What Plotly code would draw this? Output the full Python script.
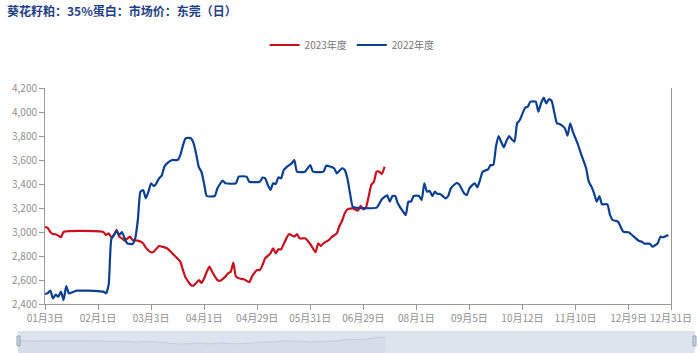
import plotly.graph_objects as go

# ---------------- data ----------------
tick_idx = [0, 20, 40, 60, 80, 100, 120, 140, 160, 180, 200, 220, 236]
tick_labels = ["01月3日", "02月1日", "03月3日", "04月1日", "04月29日", "05月31日",
               "06月29日", "08月1日", "09月5日", "10月12日", "11月10日", "12月9日", "12月31日"]

# 2023年度 (trading-day index, price)
red_x = [0, 1, 2, 3, 4, 5, 6, 7, 22, 23, 24, 25, 26, 27, 28, 29, 30, 32, 33, 35, 37, 38,
         40, 41, 43, 44, 46, 48, 49, 51, 52, 53, 55, 56, 57, 58, 59, 60, 61, 62, 63, 65,
         66, 68, 69, 70, 71, 72, 74, 75, 77, 78, 80, 81, 82, 83, 85, 86, 87, 88, 89, 90,
         91, 92, 94, 95, 96, 98, 100, 101, 102, 103, 104, 105, 107, 108, 110, 111, 112,
         113, 114, 116, 118, 119, 120, 121, 122, 123, 124, 125, 126, 127, 128]
red_y = [3044, 3035, 3000, 2983, 2981, 2970, 2956, 3000, 3000, 2975, 2989, 2956, 2975, 3017,
         2961, 2947, 2928, 2961, 2933, 2928, 2906, 2870, 2831, 2836, 2883, 2878, 2864, 2822,
         2800, 2753, 2683, 2620, 2558, 2553, 2575, 2600, 2575, 2614, 2669, 2711, 2669, 2600,
         2594, 2628, 2656, 2669, 2744, 2628, 2608, 2606, 2581, 2628, 2683, 2683, 2725, 2781,
         2822, 2864, 2822, 2856, 2856, 2900, 2947, 2983, 2961, 2983, 2947, 2947, 2900, 2864,
         2831, 2906, 2883, 2906, 2933, 2956, 2989, 3050, 3094, 3156, 3189, 3197, 3178, 3217,
         3189, 3206, 3294, 3392, 3419, 3503, 3503, 3483, 3544]

# 2022年度
blue_x = [0, 1, 2, 3, 4, 5, 6, 7, 8, 9, 10, 12, 16, 20, 22, 23, 24, 25, 26, 27, 28, 29, 30,
          31, 33, 34, 35, 36, 37, 38, 39, 40, 41, 42, 43, 44, 45, 46, 48, 50, 51, 52, 53,
          55, 56, 57, 58, 59, 60, 61, 64, 65, 67, 68, 72, 73, 76, 77, 81, 82, 83, 84, 85,
          86, 87, 88, 89, 90, 91, 93, 94, 95, 98, 100, 101, 105, 106, 109, 110, 112, 113,
          114, 115, 116, 117, 125, 127, 129, 130, 131, 132, 133, 135, 136, 137, 138, 139,
          141, 142, 143, 144, 145, 146, 147, 148, 149, 151, 152, 153, 155, 156, 158, 159,
          160, 162, 163, 164, 165, 167, 168, 169, 170, 171, 172, 173, 174, 175, 176, 177,
          178, 179, 181, 182, 183, 185, 186, 187, 188, 189, 190, 191, 193, 194, 196, 197,
          198, 199, 201, 202, 204, 205, 206, 207, 208, 209, 210, 212, 213, 214, 216, 218,
          220, 222, 224, 225, 226, 228, 229, 231, 232, 233, 235]
blue_y = [2485, 2490, 2511, 2447, 2478, 2461, 2503, 2433, 2550, 2489, 2495, 2511, 2511, 2508,
          2503, 2489, 2560, 2940, 2975, 3008, 2975, 3000, 2950, 2906, 2900, 2947, 3100, 3336,
          3350, 3281, 3336, 3406, 3383, 3406, 3447, 3470, 3544, 3572, 3600, 3600, 3640, 3720,
          3781, 3781, 3740, 3650, 3540, 3500, 3400, 3300, 3300, 3364, 3428, 3406, 3406, 3461,
          3461, 3419, 3419, 3453, 3447, 3392, 3350, 3406, 3400, 3456, 3447, 3517, 3539, 3572,
          3600, 3503, 3503, 3558, 3503, 3503, 3553, 3531, 3489, 3531, 3517, 3447, 3322, 3211,
          3203, 3203, 3272, 3306, 3253, 3300, 3300, 3239, 3169, 3142, 3253, 3253, 3300, 3300,
          3267, 3406, 3336, 3344, 3300, 3336, 3317, 3317, 3281, 3300, 3364, 3406, 3400, 3322,
          3308, 3364, 3406, 3372, 3433, 3503, 3522, 3558, 3558, 3711, 3800, 3750, 3706, 3760,
          3800, 3770, 3753, 3906, 3933, 4036, 4044, 4086, 4086, 4003, 4072, 4119, 4072, 4108,
          4092, 3906, 3900, 3864, 3803, 3906, 3836, 3725, 3656, 3531, 3419, 3378, 3322, 3253,
          3300, 3231, 3231, 3142, 3100, 3086, 3003, 2997, 2961, 2925, 2919, 2903, 2903, 2878,
          2906, 2961, 2956, 2975]

title_text = "葵花籽粕：35%蛋白：市场价：东莞（日）"
series_names = ["2023年度", "2022年度"]

# ---------------- layout helpers ----------------
W, H = 700, 353
def fx(px):
    return px / W
def fy(py):
    return 1 - py / H

RED = "#c8101e"
BLUE = "#0b3f91"
FONT = "Noto Sans CJK SC"

fig = go.Figure()
fig.add_trace(go.Scatter(x=red_x, y=red_y, mode="lines", name=series_names[0],
                         line=dict(color=RED, width=2.2, shape="spline", smoothing=0.5)))
fig.add_trace(go.Scatter(x=blue_x, y=blue_y, mode="lines", name=series_names[1],
                         line=dict(color=BLUE, width=2.2, shape="spline", smoothing=0.5)))
# data shadow inside the zoom slider
fig.add_trace(go.Scatter(x=red_x, y=red_y, mode="lines", showlegend=False, hoverinfo="skip",
                         xaxis="x2", yaxis="y2", fill="tozeroy",
                         fillcolor="rgba(185,195,212,0.22)",
                         line=dict(color="rgba(175,185,205,0.45)", width=1, shape="hv")))

axis_font = dict(family=FONT, size=10, color="#8f8f8f")
fig.update_layout(
    width=W, height=H,
    margin=dict(l=0, r=0, t=0, b=0),
    paper_bgcolor="white", plot_bgcolor="white",
    template="none",
    font=dict(family=FONT),
    xaxis=dict(domain=[fx(45), fx(671)], range=[0, 236], showgrid=False, zeroline=False,
               showline=True, linecolor="#9a9a9a", linewidth=1,
               ticks="outside", ticklen=5, tickcolor="#9a9a9a",
               tickvals=tick_idx, ticktext=tick_labels, tickfont=axis_font,
               automargin=False),
    yaxis=dict(domain=[fy(304), fy(88)], range=[2400, 4200], showgrid=False, zeroline=False,
               showline=True, linecolor="#9a9a9a", linewidth=1, mirror=True,
               ticks="outside", ticklen=5, tickcolor="#9a9a9a",
               tickvals=list(range(2400, 4201, 200)), tickformat=",",
               tickfont=axis_font, automargin=False),
    xaxis2=dict(domain=[fx(18), fx(695)], range=[0, 236], anchor="y2", visible=False),
    yaxis2=dict(domain=[0, fy(331)], range=[1278, 4394], anchor="x2", visible=False),
    showlegend=True,
    legend=dict(orientation="h", x=0.503, y=fy(45), xanchor="center", yanchor="middle",
                font=dict(family=FONT, size=10, color="#777777"),
                itemwidth=30, bgcolor="rgba(0,0,0,0)"),
    shapes=[
        dict(type="rect", xref="paper", yref="paper", x0=fx(18), x1=fx(695), y0=0, y1=fy(331),
             fillcolor="#dde4ee", line=dict(width=0), layer="below"),
        dict(type="rect", xref="paper", yref="paper", x0=fx(17), x1=fx(20), y0=fy(346), y1=fy(336),
             fillcolor="#c9d2e0", line=dict(color="#8fa3c0", width=1)),
        dict(type="rect", xref="paper", yref="paper", x0=fx(693), x1=fx(696), y0=fy(346), y1=fy(336),
             fillcolor="#c9d2e0", line=dict(color="#8fa3c0", width=1)),
    ],
    annotations=[
        dict(text="<b>" + title_text + "</b>", xref="paper", yref="paper", x=fx(5), y=fy(10),
             xanchor="left", yanchor="middle", showarrow=False,
             font=dict(family=FONT, size=12, color="#1f3f85")),
    ],
)

fig.write_html("out.html")
